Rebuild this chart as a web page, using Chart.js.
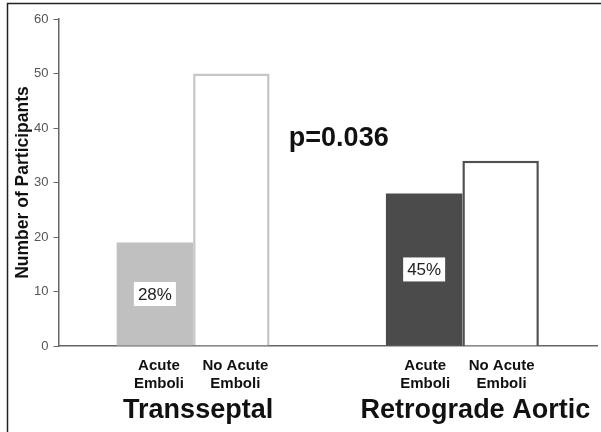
<!DOCTYPE html>
<html>
<head>
<meta charset="utf-8">
<script src="https://cdn.jsdelivr.net/npm/chart.js@4.4.0/dist/chart.umd.min.js"></script>
<style>
  html, body { margin: 0; padding: 0; background: #fff; }
  #wrap { width: 601px; height: 432px; position: relative; }
</style>
</head>
<body>
<div id="wrap"><canvas id="chart"></canvas></div>
<script>
// values
const groups = ["Transseptal", "Retrograde Aortic"];
const barLabels = [["Acute", "Emboli"], ["No Acute", "Emboli"]];
const acuteEmboli = [19, 28];
const noAcuteEmboli = [50, 34];
const acutePercent = ["28%", "45%"];
const pValue = "p=0.036";
const yTicks = [0, 10, 20, 30, 40, 50, 60];

const FONT = "'Liberation Sans', Arial, sans-serif";

// text drawn around the bars: percent boxes, bar labels, group names, p value
const annotations = {
  id: "annotations",
  beforeDraw(chart) {
    const ctx = chart.ctx;
    ctx.save();
    // frame of the original figure (top and left edges only)
    ctx.strokeStyle = "#222";
    ctx.lineWidth = 1.5;
    ctx.beginPath();
    ctx.moveTo(7.5, 432);
    ctx.lineTo(7.5, 3.5);
    ctx.lineTo(601, 3.5);
    ctx.stroke();
    ctx.restore();
  },
  afterDatasetsDraw(chart) {
    const ctx = chart.ctx;
    const x = chart.scales.x;
    const y = chart.scales.y;
    const area = chart.chartArea;
    ctx.save();

    // percent boxes in the middle of the acute bars
    chart.getDatasetMeta(0).data.forEach(function (bar, i) {
      const cx = bar.x;
      const cy = (bar.y + bar.base) / 2;
      ctx.fillStyle = "#fff";
      ctx.fillRect(cx - 21, cy - 12, 42, 24);
      ctx.fillStyle = "#222";
      ctx.font = "17px " + FONT;
      ctx.textAlign = "center";
      ctx.textBaseline = "middle";
      ctx.fillText(acutePercent[i], cx, cy + 1);
    });

    // two-line labels under each bar
    ctx.fillStyle = "#111";
    ctx.font = "bold 15px " + FONT;
    ctx.textAlign = "center";
    ctx.textBaseline = "alphabetic";
    [0, 1].forEach(function (d) {
      chart.getDatasetMeta(d).data.forEach(function (bar, i) {
        const off = i === 0 ? 4 : 1;
        ctx.fillText(barLabels[d][0], bar.x + off, area.bottom + 24);
        ctx.fillText(barLabels[d][1], bar.x + off, area.bottom + 42);
      });
    });

    // group names
    ctx.font = "bold 27px " + FONT;
    const groupOff = [5, 13];
    groups.forEach(function (g, i) {
      ctx.fillText(g, x.getPixelForValue(i) + groupOff[i], area.bottom + 72);
    });

    // p value between the groups
    const mid = (x.getPixelForValue(0) + x.getPixelForValue(1)) / 2;
    ctx.fillText(pValue, mid + 11, y.getPixelForValue(36.7));

    ctx.restore();
  }
};

new Chart(document.getElementById("chart"), {
  type: "bar",
  data: {
    labels: groups,
    datasets: [
      {
        label: "Acute Emboli",
        data: acuteEmboli,
        backgroundColor: ["#c0c0c0", "#4b4b4b"],
        borderWidth: 0
      },
      {
        label: "No Acute Emboli",
        data: noAcuteEmboli,
        backgroundColor: "#ffffff",
        borderColor: ["#c6c6c6", "#505050"],
        borderWidth: 2.5,
        borderSkipped: "bottom"
      }
    ]
  },
  options: {
    responsive: true,
    maintainAspectRatio: false,
    animation: false,
    devicePixelRatio: 1,
    categoryPercentage: 0.568,
    barPercentage: 1.0,
    layout: { padding: { top: 19, right: 4, left: 0, bottom: 0 } },
    plugins: {
      legend: { display: false },
      tooltip: { enabled: false }
    },
    scales: {
      x: {
        grid: { display: false },
        ticks: { display: false },
        border: { display: true, color: "#666", width: 1.5 },
        afterFit: function (s) { s.height = 86; }
      },
      y: {
        min: 0,
        max: 60,
        afterBuildTicks: function (s) {
          s.ticks = yTicks.map(function (v) { return { value: v }; });
        },
        grid: {
          drawOnChartArea: false,
          drawTicks: true,
          tickLength: 5,
          color: "#666"
        },
        border: { display: true, color: "#666", width: 1.5 },
        ticks: {
          padding: 5,
          color: "#555",
          font: { family: FONT, size: 13 }
        },
        title: {
          display: true,
          text: "Number of Participants",
          color: "#111",
          font: { family: FONT, size: 17.5, weight: "bold" },
          padding: { top: 13, bottom: 0 }
        },
        afterFit: function (s) { s.width = 58.5; }
      }
    }
  },
  plugins: [annotations]
});
</script>
</body>
</html>
